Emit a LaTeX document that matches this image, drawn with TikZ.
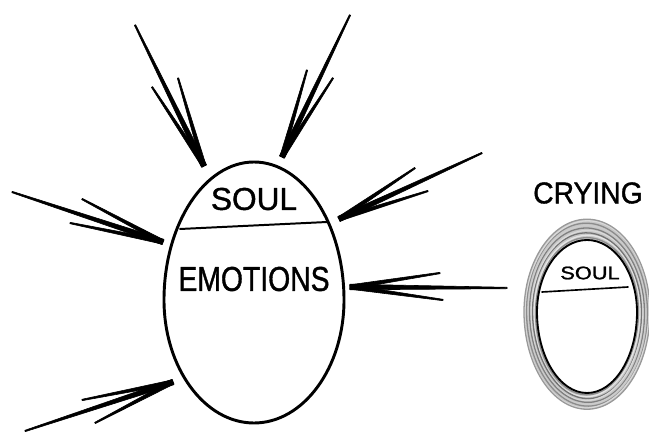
\documentclass[tikz,border=0pt]{standalone}
\usepackage{fontspec}
\setmainfont{Liberation Sans}
\newfontfamily\handfont{Liberation Sans}[FakeBold=1.2]
\usetikzlibrary{calc}

% egg outline: centre x, centre y, half width, top height, bottom height
\newcommand\eggpath[5]{%
  ({#1},{#2-(#4)}) .. controls ({#1+0.55*(#3)},{#2-(#4)}) and ({#1+(#3)},{#2-0.55*(#4)}) .. ({#1+(#3)},{#2})
  .. controls ({#1+(#3)},{#2+0.55*(#5)}) and ({#1+0.55*(#3)},{#2+(#5)}) .. ({#1},{#2+(#5)})
  .. controls ({#1-0.55*(#3)},{#2+(#5)}) and ({#1-(#3)},{#2+0.55*(#5)}) .. ({#1-(#3)},{#2})
  .. controls ({#1-(#3)},{#2-0.55*(#4)}) and ({#1-0.55*(#3)},{#2-(#4)}) .. cycle}

% tapered stroke from a free end to the tip
\newcommand\streak[3]{%
  \filldraw[line width=0.5pt,line join=round]
    ($(#1)!0.6pt!90:(#2)$) -- ($(#2)!#3!-90:(#1)$) -- ($(#2)!#3!90:(#1)$)
    -- ($(#1)!0.6pt!-90:(#2)$) -- cycle;}

\begin{document}
\begin{tikzpicture}[x=0.03cm,y=-0.03cm,line cap=round,line join=round]
  \useasboundingbox (0,0) rectangle (649,433);

  % big egg
  \draw[line width=2.5pt] \eggpath{254}{300}{90}{138}{123};
  \coordinate (divL) at (180,229);
  \coordinate (divR) at (327,222);
  \draw[line width=1.7pt] (divL) -- (divR);
  \node[font=\handfont\fontsize{27}{30}\selectfont] (soul) at (254,199) {SOUL};
  \node[font=\handfont\fontsize{29.5}{32}\selectfont] (emotions) at (254,279)
    {\scalebox{0.82}[1]{EMOTIONS}};

  % incoming streaks: name/tip/main end/two short ends
  \foreach \name/\tx/\ty/\mx/\my/\ax/\ay/\bx/\by in {
      nw/204/166/135/25/152/87/178/78,
      ne/282/157/350/15/307/70/333/78,
      w/163/242/12/192/82/199/70/223,
      e/339/219/482/153/415/168/428/191,
      cry/350/287/507/288/440/273/443/300,
      sw/173/382/25/431/82/400/95/423}
  {
    \coordinate (\name-tip) at (\tx,\ty);
    \coordinate (\name-main) at (\mx,\my);
    \coordinate (\name-a) at (\ax,\ay);
    \coordinate (\name-b) at (\bx,\by);
    \streak{\name-main}{\name-tip}{2.4pt}
    \streak{\name-a}{\name-tip}{1.9pt}
    \streak{\name-b}{\name-tip}{1.9pt}
  }

  % small egg with grey halo
  \fill[black!22,even odd rule] \eggpath{587}{312}{63}{93}{97} \eggpath{587}{312}{50}{72}{81};
  \foreach \d/\g/\r in {1.5/45/0,3/10/-1,4.5/55/1,6/15/-1,7.5/50/1,9/20/0,10.5/45/1,12/15/-1,13/40/0}
    \draw[black!\g,line width=1.1pt,rotate around={\r:(587,312)}]
      \eggpath{587}{312}{50+\d}{72+1.6*\d}{81+1.25*\d};
  \draw[line width=1.6pt] \eggpath{587}{312}{50}{72}{81};
  \coordinate (smallL) at (542,292);
  \coordinate (smallR) at (628,287);
  \draw[line width=1.4pt] (smallL) -- (smallR);
  \node[font=\handfont\fontsize{15.5}{17}\selectfont] (smallsoul) at (590,273)
    {\scalebox{1.2}[1]{SOUL}};
  \node[font=\handfont\fontsize{25.7}{28}\selectfont] (crying) at (588,193)
    {\scalebox{0.94}[1]{CRYING}};
\end{tikzpicture}
\end{document}
